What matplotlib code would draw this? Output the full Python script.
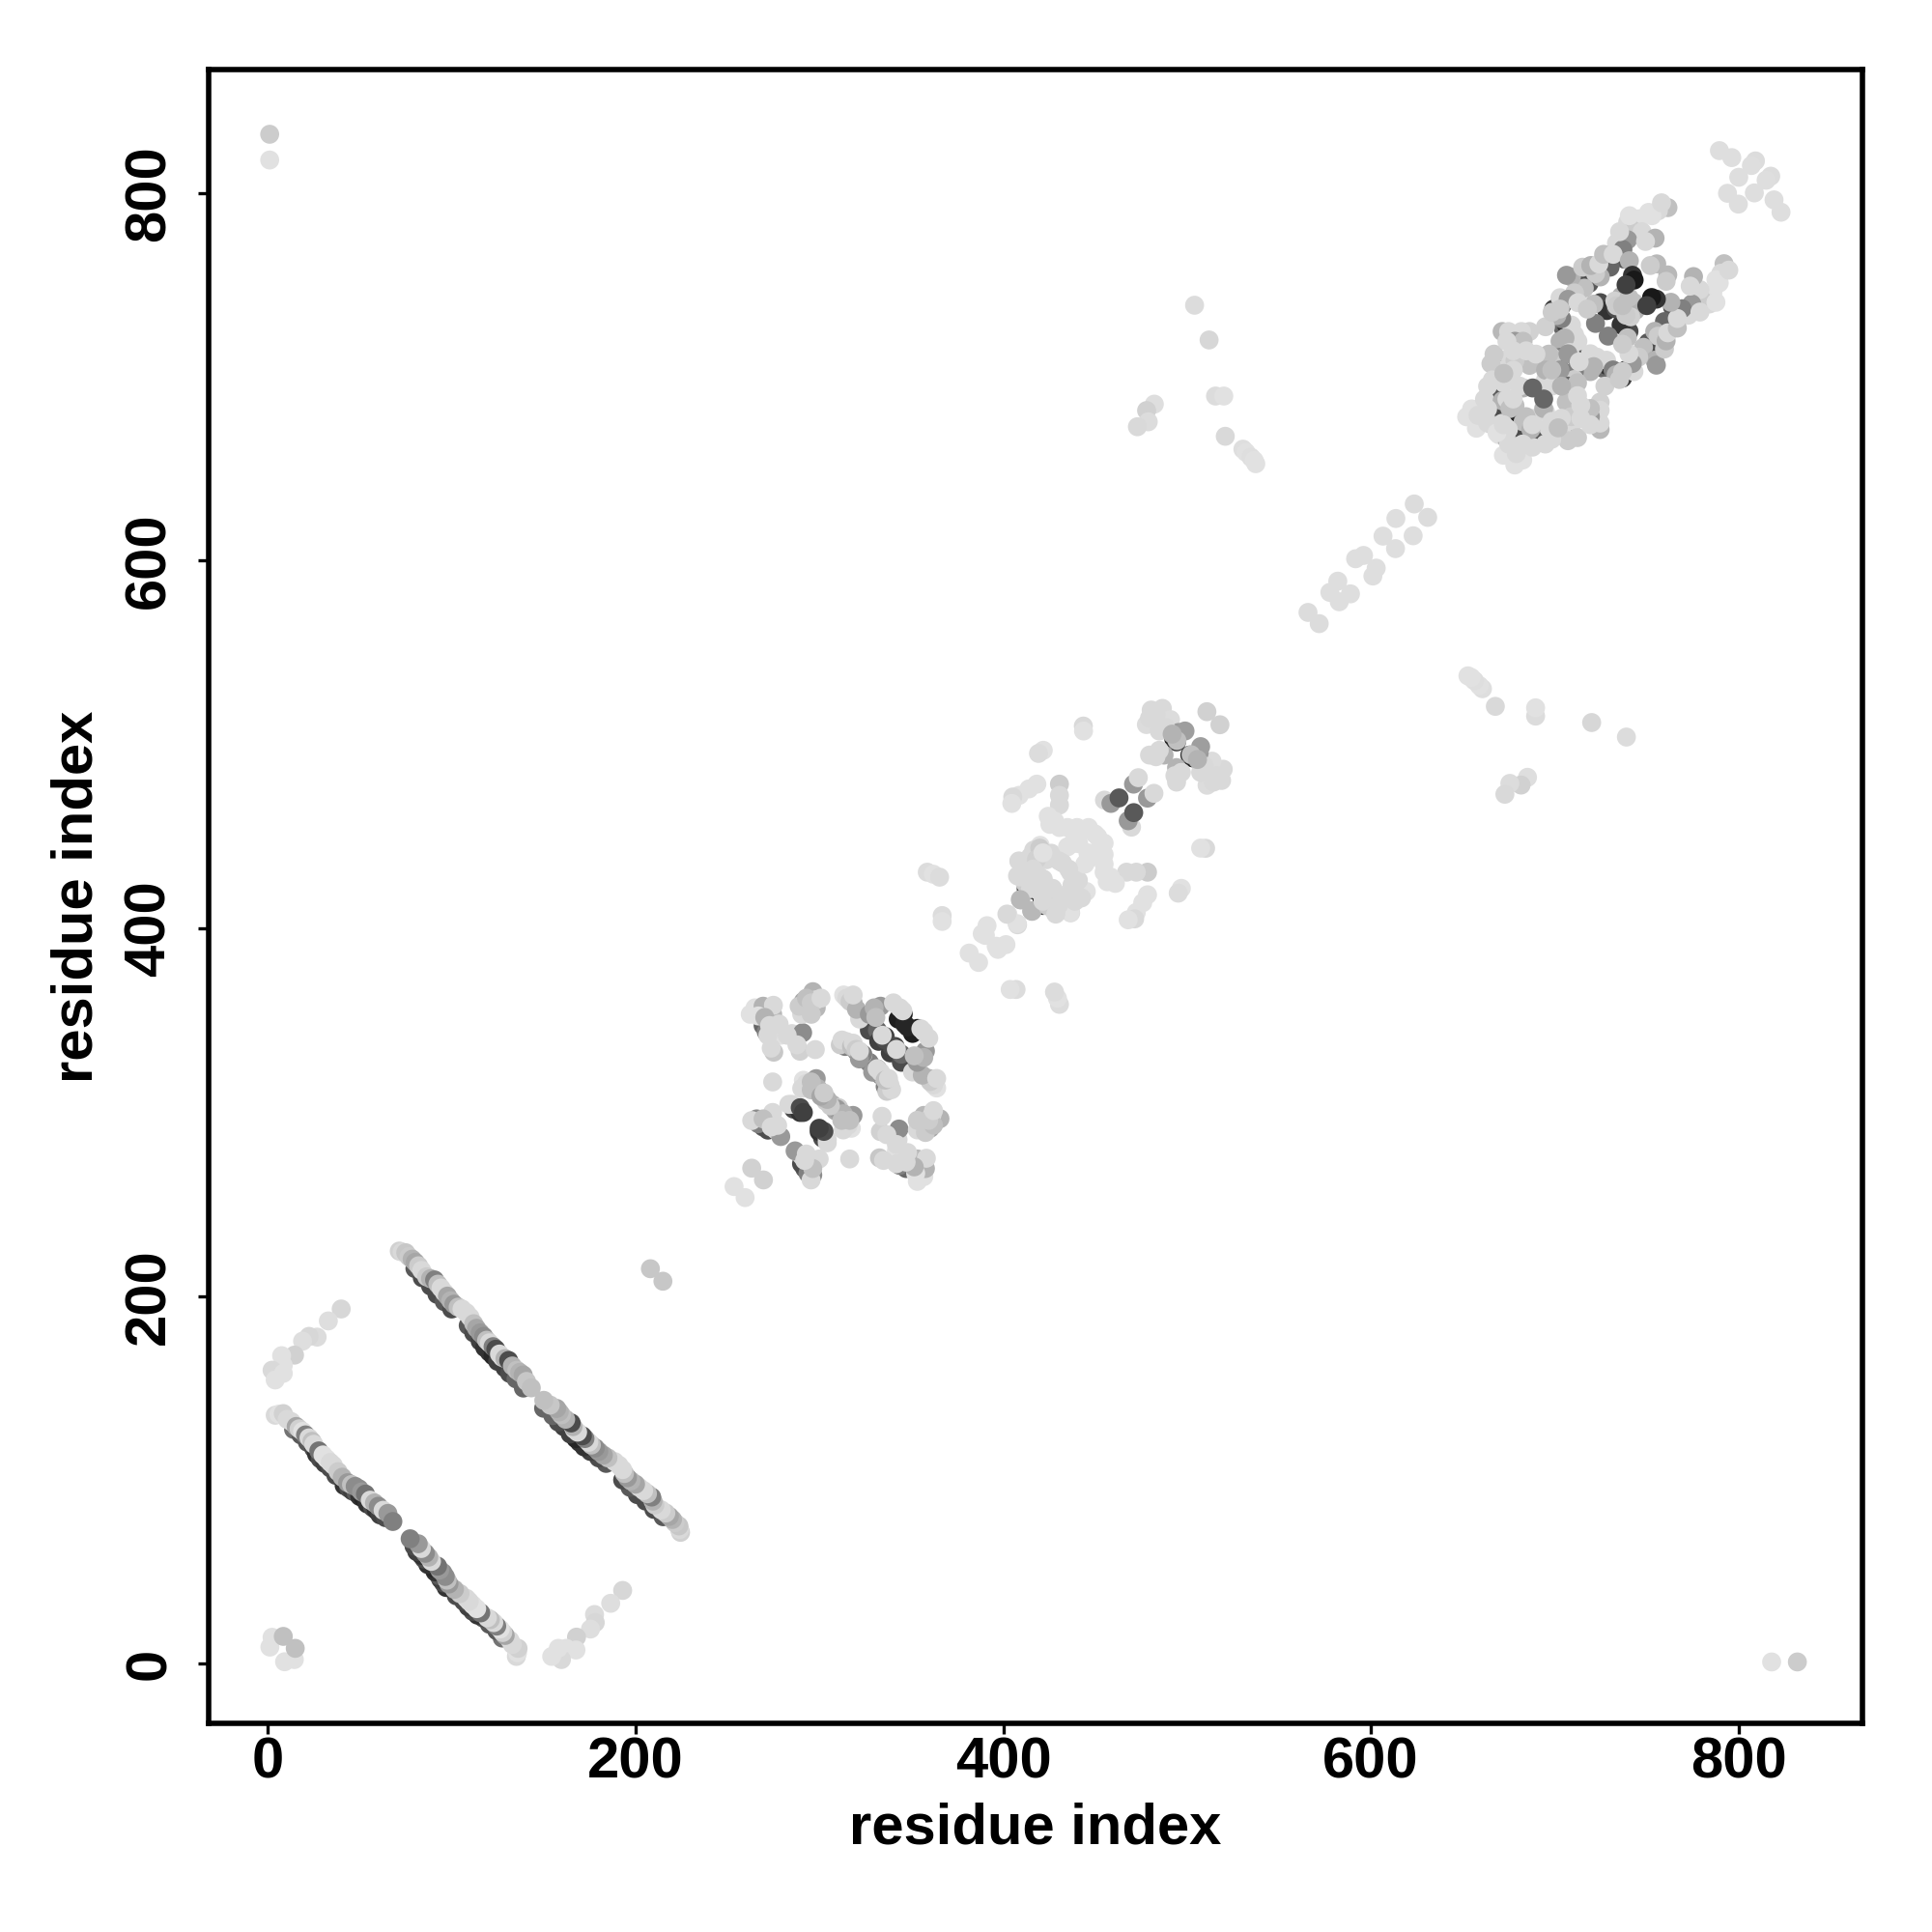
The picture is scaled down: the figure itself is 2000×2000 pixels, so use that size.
import numpy as np
import matplotlib
matplotlib.use("Agg")
import matplotlib.pyplot as plt

plt.rcParams['font.family'] = ['Liberation Sans', 'DejaVu Sans']

# contact map: only one side of the diagonal is listed, the other side is its mirror
# lone points and arms
lone_i = [1, 1, 208.1, 2.3, 1.1, 8.4]
lone_j = [832, 818, 214.9, 14.4, 9.1, 14.9]
lone_g = [.8, .88, .78, .88, .88, .75]

arm_i = [39.9, 32.9, 26.8, 22.4, 18.9, 14.5, 7.5, 8.4, 2.3, 4, 8.4]
arm_j = [193, 186.5, 177.7, 178.1, 175.5, 167.9, 167.6, 162.3, 159.7, 154.4, 158]
arm_g = [.84, .87, .86, .84, .87, .82, .88, .88, .85, .88, .88]

# antiparallel strips, dark ones go underneath
bar1u_i = [14, 18, 21.5, 25, 26.5, 28.5, 31, 34, 37, 41.5, 44, 46, 48, 50, 52, 54, 57, 59, 61, 64]
bar1u_j = [127.5, 124.5, 120.5, 117, 114, 111.5, 109, 106.5, 102.5, 97, 95.5, 94, 93, 91, 90, 87, 85, 83.5, 81, 79.5]
bar1u_g = [.45, .35, .35, .3, .2, .3, .25, .3, .3, .2, .3, .25, .35, .2, .15, .2, .3, .2, .25, .3]

bar1_i = [4, 6, 8.4, 10.5, 12.8, 15.4, 17, 18.9, 20.5, 22.4, 24, 25, 27.7, 30, 32, 34, 35.6, 38.2, 40.5, 43.4, 45.5,
          47.5, 49.6, 51, 53.1, 55.7, 58, 60.1, 62.7, 65.3, 68]
bar1_j = [135.2, 135.8, 136.1, 133, 131.7, 129.1, 127.8, 126.4, 124.5, 122.9, 121, 119.4, 115.8, 113.6, 111.5, 109.5,
          108, 104.5, 101.5, 98.5, 97.5, 96.5, 95.2, 93.5, 92.3, 89, 87.5, 85.7, 83.5, 81.8, 77.4]
bar1_g = [.85, .88, .82, .85, .85, .65, .82, .88, .5, .85, .75, .85, .45, .88, .88, .85, .85, .8, .7, .6, .75,
          .55, .55, .6, .45, .85, .7, .55, .85, .6, .5]

bar2u_i = [80, 84, 88.5, 92, 96, 100, 109, 112, 115.5, 118, 120.5, 122.5, 125, 129, 131.5, 135, 139]
bar2u_j = [215, 210, 205.5, 201, 197, 193, 184, 180, 175.5, 172, 169.5, 167.5, 164.5, 161, 158, 155, 150]
bar2u_g = [.35, .3, .3, .3, .35, .3, .35, .3, .25, .2, .2, .15, .25, .25, .3, .4, .4]

bar2_i = [71.5, 73, 75, 76.7, 78.5, 80.2, 82, 83.7, 86.4, 88.5, 90.7, 92.5, 94.2, 96, 97.7, 99.5, 101.2, 103.5, 105.6,
          108, 110, 112, 113.5, 115.5, 117.4, 119, 120.5, 122.5, 124, 126, 127.5, 129, 131, 133, 135.4, 137, 138.9,
          140.7, 143.3]
bar2_j = [224.5, 224, 223.6, 221.5, 220.1, 218.4, 216.5, 214, 210.5, 209.5, 208.8, 206.5, 204.4, 202, 200, 197.5,
          195.6, 194, 193, 191, 188.6, 185, 182.5, 180, 178.1, 176, 174.6, 172.5, 171.1, 168.5, 166.7, 166, 165, 162,
          159.7, 158.5, 157.1, 153.6, 150.1]
bar2_g = [.82, .85, .78, .8, .7, .65, .8, .85, .8, .7, .5, .75, .85, .85, .65, .7, .6, .75, .85,
          .85, .85, .75, .65, .6, .55, .75, .85, .5, .3, .85, .85, .7, .3, .7, .75, .7, .65, .78, .75]

# domain around 260-360
domAu_i = [269.4, 271.1, 345.6, 342.9, 329.8, 314, 320.2, 338.6, 341.2, 269.4, 265.9, 272, 327.2, 331.6, 346.4, 286, 289.5, 339.4, 327.2]
domAu_j = [347.2, 343.7, 353.3, 350.7, 346.3, 335.8, 333.2, 332.3, 335.8, 292, 296.4, 290.3, 344.6, 344.6, 348, 301.7, 299.9, 335.8, 327]
domAu_g = [.4, .5, .1, .12, .3, .5, .5, .25, .25, .35, .55, .3, .3, .4, .15, .3, .2, .3, .5]

domA_i = [253.6, 263.2, 262.4, 265, 269.4, 274.6, 275, 276.4, 279, 275.2, 285.1, 290.9, 289.5, 297.8,
          296.5, 291.3, 292.1, 298.3, 298.3, 290.4,
          331.6, 313.2, 318.4, 314.9, 321.9, 333.3, 343.8, 334.2, 314.9, 323.7, 334.2,
          266.8, 263.2, 274.6, 276.4, 279, 274.6, 291.3, 290.4, 298.3, 301.8, 299.2,
          285.1, 307.9,
          266.8, 270.3, 272, 272.9, 278.1, 282.5, 273.8, 287.8, 289, 293, 295.6, 295.6, 300.9,
          316.7, 320.2, 318.4, 327.2, 329.8, 330.7, 340.3, 355.2, 311.4, 312.3, 317.5, 318.4, 329, 333.3,
          269.4, 273.8, 277.3, 283.4, 293, 295.6, 295.6, 303.5, 307, 308.8, 310.5]
domA_j = [259.6, 269.6, 353.3, 356.8, 357.7, 353.3, 358.2, 346.3, 341.9, 332.7, 342.8, 343.3, 333.2, 334.1,
          365.6, 360.3, 356.8, 356.8, 361.2, 353.3,
          323.6, 363.8, 359.5, 362.1, 350.7, 357.7, 356.8, 341.9, 338.4, 331.4, 320,
          293.8, 295.5, 299.9, 290.3, 286.8, 316.5, 317.4, 313, 318.3, 309.5, 313,
          304.3, 302.5,
          352.4, 351.6, 341.9, 347.2, 348, 341.9, 334.9, 336.7, 357.7, 362.1, 359.5, 353.3, 362.1,
          360.3, 356, 363.8, 353.3, 356.8, 351.6, 359.5, 345.4, 336.7, 339.3, 335.8, 337.6, 321.8, 321.8,
          296.4, 292, 292.9, 304.3, 315.7, 316.5, 312.2, 306, 304.3, 300.8, 302.5]
domA_g = [.88, .82, .88, .88, .7, .72, .85, .85, .88, .78, .85, .55, .82, .85,
          .7, .65, .7, .72, .85, .85,
          .5, .88, .7, .85, .85, .6, .85, .85, .85, .85, .8,
          .5, .85, .85, .85, .6, .85, .88, .85, .6, .6, .7,
          .85, .7,
          .88, .7, .85, .85, .85, .85, .85, .85, .8, .75, .8, .8, .85,
          .8, .7, .85, .6, .7, .75, .85, .85, .8, .85, .75, .85, .6, .85,
          .75, .85, .85, .85, .85, .75, .75, .8, .7, .65, .8]

domAt_i = [289.6, 291.3]
domAt_j = [302.5, 299.9]
domAt_g = [.3, .25]

# domain around 380-520
domBu_i = [414, 412.5, 421, 492.8, 501.5]
domBu_j = [423.4, 421.6, 416.4, 503, 494.3]
domBu_g = [.15, .25, .2, .15, .2]

domB_i = [358.7, 362, 365.4, 366.8, 366.8, 381.5, 391.2, 390.3, 402.6, 407.8,
          443.6, 443.7, 421.8, 419.2, 430.6, 430.6, 430.6, 418.3, 414, 408.7, 405.2, 404.7,
          428, 430.6, 437.6, 440.2, 446.4, 420.1, 416.6, 408.7, 426.2, 430.6, 419.2, 409.6,
          409.6, 415.7, 428, 436.7, 427.1, 436.7, 440.2, 443.7, 437.6,
          455.1, 458.6, 463, 470.9, 473.5,
          480.5, 486.6, 477.9, 491, 495.4, 498.9, 510.8, 487.5, 479.6, 483.1,
          415.7, 420.1, 412.2, 414.8, 494.5, 483.1, 479.6, 484.9, 488.4, 491.9, 484.9,
          424.5, 425.4, 435, 435, 441.1, 442.9, 449.9, 432.3, 414.8, 420.1, 423.6, 407.8, 413.1, 421.8, 432.3, 441.1,
          430.6, 427.1, 388.6]
domB_j = [430.6, 429.5, 427.9, 407, 403.8, 386.6, 401.5, 396.2, 407.6, 402,
          510.1, 507.4, 496.9, 495.2, 478.5, 472.4, 467.1, 478.5, 475.9, 472.4, 471.5, 468,
          458.4, 454.9, 446.1, 454.9, 454.9, 445.2, 442.6, 436.5, 440.9, 437.4, 428.6, 428.6,
          415.5, 409.3, 409.3, 408.5, 419.8, 430.4, 426, 419.9, 418.1,
          469.8, 468, 471, 478.5, 482,
          518.8, 519.7, 510.9, 513.6, 506.6, 507.4, 517.9, 494.3, 494.3, 493.4,
          425.1, 419.9, 424.2, 421.6, 502.2, 516.2, 514.4, 507.4, 509.2, 505.7, 496.9,
          461, 456.6, 454.9, 444.4, 446.1, 453.1, 451.4, 435.6, 439.1, 439.1, 437.4, 428.6, 430.4, 426.9, 416.3, 421.6,
          411.1, 414.6, 397.1]
domB_g = [.86, .88, .86, .86, .88, .88, .88, .88, .88, .85,
          .85, .88, .88, .86, .8, .85, .85, .88, .88, .88, .85, .88,
          .88, .88, .88, .88, .88, .88, .85, .88, .85, .85, .85, .85,
          .72, .72, .85, .85, .85, .85, .85, .8, .82,
          .85, .6, .35, .6, .85,
          .85, .85, .86, .86, .6, .62, .82, .7, .85, .85,
          .85, .85, .8, .85, .75, .85, .85, .85, .85, .7, .85,
          .88, .88, .88, .88, .88, .88, .88, .85, .85, .85, .85, .85, .85, .85, .85, .88,
          .85, .85, .88]

# sparse points between the domains
link_i = [504.1, 512, 515.5, 520, 520.8, 530.4, 532.1, 534.8, 536.5, 537.4, 482.2, 478, 478.9, 473,
          565.8, 577.7, 582, 591.7, 596, 606.6, 613.6, 623.6]
link_j = [739, 720.1, 689.6, 689.6, 667.7, 660.7, 659, 656.3, 654.6, 652.8, 685.2, 681.7, 675.6, 672.9,
          571.9, 582.8, 588.9, 601.1, 602.9, 613.4, 623, 630.9]
link_g = [.86, .84, .86, .88, .85, .87, .88, .87, .88, .88, .87, .82, .86, .85,
          .86, .87, .87, .87, .87, .87, .87, .86]

# domain around 650-790, crescents first
domCu_i = [674, 667, 664.4, 708.2, 703.8, 729.2, 718.7, 712.6, 737.9, 724.8, 728.3, 737.1,
           704.7, 702, 706.4, 699.4, 667.9, 672.3, 679.3, 707.3, 717.8]
domCu_j = [683.5, 687.9, 691.4, 716.8, 738.7, 738.7, 750.9, 752.7, 764.1, 740.4, 736.1, 733.4,
           726.4, 738.7, 728.2, 736.9, 689.6, 680, 679.1, 701.9, 710.7]
domCu_g = [.1, .15, .4, .2, .25, .3, .35, .3, .35, .3, .2, .3,
           .4, .3, .2, .25, .35, .3, .15, .45, .35]

domC_i = [761.6, 756.4, 751.1, 745.8, 739.7, 742.3, 747.5, 733.6, 739.7, 737.1, 754.6, 749.4, 755.5, 752,
          736.2, 732.7, 728.3, 730.1, 724.8, 722.2, 716.1, 709.1, 706.4, 702.9, 710.8, 707.3, 721.3,
          722.2, 709.1, 710.8, 703.8, 701.2, 702.9, 712.6, 695, 686.3, 681.9, 671.4, 674.9, 678.4, 682.8,
          702.9, 698.6, 695, 691.5, 686.3, 668.8, 671.4, 675.8, 678.4, 682.8, 678.4,
          672.3, 675.8, 668.8, 666.1, 660, 654.8, 652.1, 657.4, 661.8, 703.8, 695,
          715.2, 719.6, 724, 726.6, 731.8, 735.3, 740.6, 752.9, 758.1, 740.6,
          712.6, 717.8, 733.6, 738.8, 743.2, 702.9, 705.6, 698.6,
          696.8, 695, 703.8, 712.6, 708.2,
          665.3, 667, 674, 677.5, 684.5, 689.8, 677.5, 666.1, 663.5, 671.4, 674,
          671.4, 682.8, 688, 695, 672.3, 663.5, 658.3, 663.5, 669.6, 674]
domC_j = [792.1, 790.4, 789.5, 786, 784.2, 779.8, 779, 772.8, 774.6, 769.3, 775.5, 773.7, 761.5, 760.6,
          743.9, 741.3, 765, 759.7, 754.4, 756.2, 748.3, 754.4, 755.3, 743.1, 745.7, 742.2, 739.6,
          729.1, 728.2, 722.9, 731.7, 733.4, 719.4, 719.4, 727.3, 724.7, 724.7, 724.7, 724.7, 719.4, 719.4,
          710.7, 710.7, 707.2, 708.9, 706.3, 706.3, 703.7, 710.7, 708.9, 694, 684.4,
          696.6, 698.4, 700.1, 673.9, 675.6, 682.6, 678.3, 672.1, 687.9, 702.9, 698.4,
          759.7, 760.6, 761.5, 766.7, 766.7, 779, 787.7, 787.7, 794.7, 763.2,
          740.4, 736.9, 738.7, 736.9, 740.4, 736.9, 721.2, 735.2,
          712.4, 703.7, 698.4, 707.2, 713.3,
          707.2, 712.4, 719.4, 714.2, 714.2, 712.4, 703.7, 698.4, 694.9, 687, 687.9,
          674.8, 675.6, 677.4, 680.9, 701.9, 674.9, 679.1, 682.6, 668.6, 672.1]
domC_g = [.75, .85, .88, .88, .85, .8, .85, .85, .6, .5, .7, .85, .72, .8,
          .7, .82, .55, .4, .7, .8, .75, .7, .6, .85, .8, .6, .75,
          .5, .85, .85, .5, .7, .7, .85, .82, .82, .85, .72, .85, .6, .75,
          .5, .8, .4, .6, .75, .6, .85, .85, .8, .7, .75,
          .85, .85, .85, .7, .85, .88, .88, .88, .85, .6, .85,
          .8, .7, .85, .75, .85, .85, .88, .88, .85, .7,
          .85, .8, .8, .75, .75, .8, .7, .8,
          .75, .7, .75, .6, .85,
          .8, .8, .85, .85, .85, .85, .85, .85, .85, .7, .85,
          .85, .75, .85, .85, .75, .85, .85, .85, .88, .85]

domCt_i = [742.3, 743.2, 738.8, 688]
domCt_j = [755.3, 752.7, 750.1, 694]
domCt_g = [.2, .1, .25, .4]

# corner beyond the big domain
top_i = [789.6, 796.3, 809.2, 800.1, 794, 807]
top_j = [823.1, 819.3, 817.5, 808.6, 799.9, 815]
top_g = [.87, .87, .86, .87, .87, .87]

regions = [(lone_i, lone_j, lone_g), (arm_i, arm_j, arm_g),
           (bar1u_i, bar1u_j, bar1u_g), (bar1_i, bar1_j, bar1_g),
           (bar2u_i, bar2u_j, bar2u_g), (bar2_i, bar2_j, bar2_g),
           (domAu_i, domAu_j, domAu_g), (domA_i, domA_j, domA_g), (domAt_i, domAt_j, domAt_g),
           (domBu_i, domBu_j, domBu_g), (domB_i, domB_j, domB_g),
           (link_i, link_j, link_g),
           (domCu_i, domCu_j, domCu_g), (domC_i, domC_j, domC_g), (domCt_i, domCt_j, domCt_g),
           (top_i, top_j, top_g)]
ticks = [0, 200, 400, 600, 800]

fig = plt.figure(figsize=(10, 10))
ax = fig.add_axes([216 / 2000, 216 / 2000, 1712 / 2000, 1712 / 2000])

z = 2
for i, j, g in regions:
    x = np.concatenate([i, j])
    y = np.concatenate([j, i])
    c = np.concatenate([g, g])
    ax.scatter(x, y, c=c, cmap='gray', vmin=0, vmax=1, s=50, linewidths=0, zorder=z)
    z += 0.01

ax.set_xlim(-32.2, 867.4)
ax.set_ylim(-32.4, 867.2)
ax.set_xticks(ticks)
ax.set_yticks(ticks)
ax.set_xticklabels(ticks, fontsize=21.5, fontweight='bold')
ax.set_yticklabels(ticks, fontsize=21.5, fontweight='bold', rotation=90, va='center')
ax.tick_params(axis='x', length=4, width=1.2, pad=1)
ax.tick_params(axis='y', length=4, width=1.2, pad=8)
for s in ax.spines.values():
    s.set_linewidth(2)

fig.text(1072 / 2000, 1 - 1893 / 2000, 'residue index', fontsize=21.5, fontweight='bold', ha='center', va='center')
fig.text(80 / 2000, 1 - 928 / 2000, 'residue index', fontsize=21.5, fontweight='bold', ha='center', va='center', rotation=90)

fig.savefig('out.png', dpi=200)
